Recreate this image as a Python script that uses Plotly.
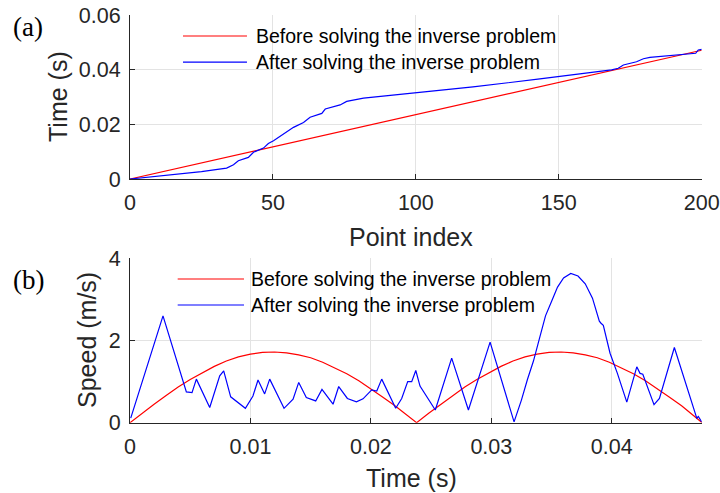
import plotly.graph_objects as go

# (a) time vs point index
idx_before = [0, 200]
time_before = [0, 0.0471]

idx_after = [0, 10, 17.5, 25, 30, 33.8, 36.2, 37.9, 41.4, 43.2, 46.7, 48.4, 50.2, 53.7, 57.2,
             60.7, 63.0, 67.1, 68.3, 73.5, 75.8, 81.7, 90, 100.3, 120, 143.4, 150, 168.5,
             170.8, 172.6, 177.2, 179.6, 181.9, 187.7, 193.6, 197.9, 198.8, 200]
time_after = [0, 0.0010, 0.0018, 0.0027, 0.0034, 0.0040, 0.0052, 0.0067, 0.0079, 0.0098, 0.0113,
              0.0130, 0.0140, 0.0165, 0.0189, 0.0207, 0.0226, 0.0240, 0.0256, 0.0271, 0.0284,
              0.0296, 0.0305, 0.0315, 0.0337, 0.0366, 0.0374, 0.0399, 0.0405, 0.0417, 0.0429,
              0.0440, 0.0445, 0.0451, 0.0457, 0.0460, 0.0472, 0.0474]

# (b) speed vs time
t_before = [0, 0.001, 0.002, 0.003, 0.004, 0.005, 0.006, 0.007, 0.008, 0.009, 0.010, 0.011,
            0.012, 0.013, 0.014, 0.015, 0.016, 0.017, 0.018, 0.019, 0.020, 0.021, 0.022, 0.023,
            0.0238, 0.0248, 0.0258, 0.0268, 0.0278, 0.0288, 0.0298, 0.0308, 0.0318, 0.0328,
            0.0338, 0.0348, 0.0358, 0.0368, 0.0378, 0.0388, 0.0398, 0.0408, 0.0418, 0.0428,
            0.0438, 0.0448, 0.0458, 0.0468, 0.0475]
v_before = [0, 0.23, 0.45, 0.66, 0.87, 1.05, 1.22, 1.37, 1.50, 1.60, 1.67, 1.71,
            1.72, 1.70, 1.65, 1.58, 1.47, 1.34, 1.19, 1.02, 0.83, 0.62, 0.41, 0.18,
            0, 0.23, 0.45, 0.66, 0.87, 1.05, 1.22, 1.37, 1.50, 1.60,
            1.67, 1.71, 1.72, 1.70, 1.65, 1.58, 1.47, 1.34, 1.19, 1.02,
            0.83, 0.62, 0.41, 0.18, 0]

t_after = [0.00006, 0.00274, 0.00468, 0.00515, 0.00551, 0.00662, 0.00745, 0.00778, 0.00836,
           0.00958, 0.01021, 0.01063, 0.01118, 0.01160, 0.01279, 0.01354, 0.01401, 0.01464,
           0.01542, 0.01594, 0.01686, 0.01733, 0.01805, 0.01880, 0.01935, 0.01970, 0.02007,
           0.02049, 0.02090, 0.02206, 0.02256, 0.02306, 0.02339, 0.02373, 0.02408, 0.02535,
           0.02671, 0.02810, 0.02990, 0.03189, 0.0325, 0.0330, 0.0335, 0.0340, 0.0345, 0.0350,
           0.0355, 0.0360, 0.0366, 0.0372, 0.0378, 0.0384, 0.03897, 0.03911, 0.0393, 0.03986,
           0.04047, 0.04125, 0.04208, 0.04235, 0.04258, 0.04351, 0.04396, 0.04520, 0.04706,
           0.04719, 0.04747]
v_after = [0.11, 2.60, 0.75, 0.73, 1.06, 0.37, 1.14, 1.26, 0.63,
           0.35, 0.65, 1.04, 0.70, 1.06, 0.35, 0.57, 0.98, 0.61,
           0.53, 0.81, 0.45, 0.88, 0.59, 0.51, 0.58, 0.70, 0.80,
           0.77, 1.06, 0.35, 0.59, 1.00, 1.00, 1.27, 0.89, 0.31,
           1.57, 0.31, 1.96, 0.02, 0.55, 1.05, 1.50, 2.05, 2.60, 2.95,
           3.30, 3.52, 3.63, 3.57, 3.38, 3.03, 2.47, 2.42, 2.37, 1.69,
           1.20, 0.50, 1.36, 1.20, 1.18, 0.44, 0.59, 1.83, 0.11,
           0.15, 0.02]

legend_names = ["Before solving the inverse problem", "After solving the inverse problem"]
RED = "#ff0000"
BLUE = "#0000ff"
INK = "#262626"
FONT = "Liberation Sans, Arial, sans-serif"
W, H = 720, 493


def px(x):
    return x / W


def py(y):
    return 1 - y / H


fig = go.Figure()
fig.add_trace(go.Scatter(x=idx_before, y=time_before, mode="lines",
                         line=dict(color=RED, width=1.2), xaxis="x", yaxis="y"))
fig.add_trace(go.Scatter(x=idx_after, y=time_after, mode="lines",
                         line=dict(color=BLUE, width=1.2), xaxis="x", yaxis="y"))
fig.add_trace(go.Scatter(x=t_before, y=v_before, mode="lines",
                         line=dict(color=RED, width=1.2), xaxis="x2", yaxis="y2"))
fig.add_trace(go.Scatter(x=t_after, y=v_after, mode="lines",
                         line=dict(color=BLUE, width=1.2), xaxis="x2", yaxis="y2"))

axis_style = dict(
    showline=True, linecolor=INK, linewidth=1,
    ticks="inside", ticklen=5, tickcolor=INK,
    showgrid=True, gridcolor="#e3e3e3", gridwidth=1,
    zeroline=False, tickfont=dict(size=21.5, color=INK, family=FONT),
    ticklabelstandoff=4, automargin=False, fixedrange=True,
)

fig.update_layout(
    width=W, height=H,
    plot_bgcolor="white", paper_bgcolor="white",
    showlegend=False,
    margin=dict(l=0, r=0, t=0, b=0),
    font=dict(family=FONT, color=INK),
    xaxis=dict(axis_style, domain=[px(130), px(701.7)], anchor="y", range=[0, 200],
               tickvals=[0, 50, 100, 150, 200]),
    yaxis=dict(axis_style, domain=[py(179), py(15)], anchor="x", range=[0, 0.06],
               tickvals=[0, 0.02, 0.04, 0.06], ticktext=["0", "0.02", "0.04", "0.06"]),
    xaxis2=dict(axis_style, domain=[px(130), px(701.7)], anchor="y2", range=[0, 0.04747],
                tickvals=[0, 0.01, 0.02, 0.03, 0.04], ticktext=["0", "0.01", "0.02", "0.03", "0.04"]),
    yaxis2=dict(axis_style, domain=[py(422.7), py(258.3)], anchor="x2", range=[0, 4],
                tickvals=[0, 2, 4]),
)

# axis titles
titles = [("Point index", 411, 237, 0), ("Time (s)", 411, 478, 0),
          ("Time (s)", 58, 97, -90), ("Speed (m/s)", 87, 340, -90)]
for text, x, y, ang in titles:
    fig.add_annotation(xref="paper", yref="paper", x=px(x), y=py(y), text=text,
                       showarrow=False, xanchor="center", yanchor="middle", textangle=ang,
                       font=dict(size=25, color=INK, family=FONT))

# legends drawn inside each axis box
legend_spots = [("x", "y", 0.0927, 0.2046, 0.2169, [0.872, 0.713]),
                ("x2", "y2", 0.0834, 0.1994, 0.2090, [0.874, 0.716])]
for xr, yr, x0, x1, xt, rows in legend_spots:
    for name, color, yy in zip(legend_names, [RED, BLUE], rows):
        fig.add_shape(type="line", xref=xr + " domain", yref=yr + " domain",
                      x0=x0, x1=x1, y0=yy, y1=yy, line=dict(color=color, width=1.2))
        fig.add_annotation(xref=xr + " domain", yref=yr + " domain", x=xt, y=yy,
                           text=name, showarrow=False, xanchor="left", yanchor="middle",
                           font=dict(size=19.5, color="black", family=FONT))

for label, ypos in [("(a)", 27), ("(b)", 280)]:
    fig.add_annotation(xref="paper", yref="paper", x=px(11), y=py(ypos),
                       text=label, showarrow=False, xanchor="left", yanchor="middle",
                       font=dict(size=27, color="black", family="Liberation Serif, Times New Roman, serif"))

# the page's default body margin would push the 720x493 figure off the window
fig.write_html("out.html", config={"displayModeBar": False},
               post_script="document.body.style.margin='0';")
